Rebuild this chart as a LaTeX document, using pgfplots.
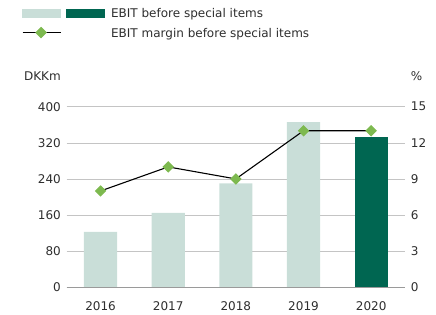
\documentclass[border=0pt]{standalone}
\usepackage{pgfplots}
\pgfplotsset{compat=1.18}
\usepackage{fontspec}
\setmainfont{DejaVu Sans}
\definecolor{lightbar}{HTML}{C9DED8}
\definecolor{darkbar}{HTML}{006651}
\definecolor{mk}{HTML}{7DB94F}
\definecolor{txt}{HTML}{2E2E2E}
\definecolor{gridc}{HTML}{C4C4C4}
\definecolor{basec}{HTML}{9A9A9A}
\pgfplotsset{
  common/.style={
    at={(66.7bp,27.7bp)}, anchor=south west,
    scale only axis, width=338.3bp, height=180.6bp,
    xmin=-0.5, xmax=4.5,
    axis line style={draw=none},
    major tick length=0pt,
    font=\fontsize{12bp}{14bp}\selectfont,
    /pgf/number format/assume math mode=true,
    ticklabel style={text=txt, inner sep=0pt},
  }
}
\begin{document}
\begin{tikzpicture}
\path[use as bounding box] (0,0) rectangle (436bp,315bp);
\begin{axis}[common, clip=false,
  ymin=0, ymax=400, ytick={0,80,...,400},
  ymajorgrids, grid style={gridc, line width=0.6pt},
  yticklabel style={anchor=east, xshift=-5.7bp},
  xtick={0,1,2,3,4}, xticklabels={2016,2017,2018,2019,2020},
  xticklabel style={anchor=north, yshift=-13.8bp},
]
\addplot[ybar, bar shift=0pt, bar width=0.49, fill=lightbar, draw=none] coordinates {(0,123) (1,165) (2,230) (3,366)};
\addplot[ybar, bar shift=0pt, bar width=0.49, fill=darkbar, draw=none] coordinates {(4,333)};
\draw[basec, line width=0.8pt] (rel axis cs:0,0) -- (rel axis cs:1,0);
\node[anchor=base east, inner sep=0pt, text=txt] at ([xshift=-5.7bp,yshift=26.7bp]rel axis cs:0,1) {DKKm};
\node[anchor=base west, inner sep=0pt, text=txt] at ([xshift=5.7bp,yshift=26.7bp]rel axis cs:1,1) {\%};
\end{axis}
\begin{axis}[common,
  ymin=0, ymax=15, ytick={0,3,...,15},
  yticklabel pos=right,
  yticklabel style={anchor=west, xshift=5.7bp},
  xtick=\empty,
  legend cell align=left,
  legend style={draw=none, fill=none, inner sep=0pt, outer sep=0pt,
    at={(axis description cs:-0.1321,1.5437)}, anchor=north west,
    text=txt, row sep=9.5bp,
    nodes={inner sep=0pt, text height=9bp, text depth=0pt},
    /tikz/every odd column/.append style={column sep=6bp}},
]
\addlegendimage{legend image code/.code={
  \fill[lightbar] (0bp,-3.7bp) rectangle (38bp,3.7bp);
  \fill[darkbar] (44bp,-3.7bp) rectangle (82bp,3.7bp);}}
\addlegendentry{EBIT before special items}
\addplot[black, line width=1.1bp, mark=square*, mark size=3.5bp,
  mark options={fill=mk, draw=mk, rotate=45},
  legend image code/.code={
    \path (0bp,0bp) (82bp,0bp);
    \draw[black, line width=1.1bp] (0bp,0bp) -- (38bp,0bp);
    \fill[mk] (13.5bp,0bp) -- (18.5bp,5bp) -- (23.5bp,0bp) -- (18.5bp,-5bp) -- cycle;}]
  coordinates {(0,8) (1,10) (2,9) (3,13) (4,13)};
\addlegendentry{EBIT margin before special items}
\end{axis}
\end{tikzpicture}
\end{document}
